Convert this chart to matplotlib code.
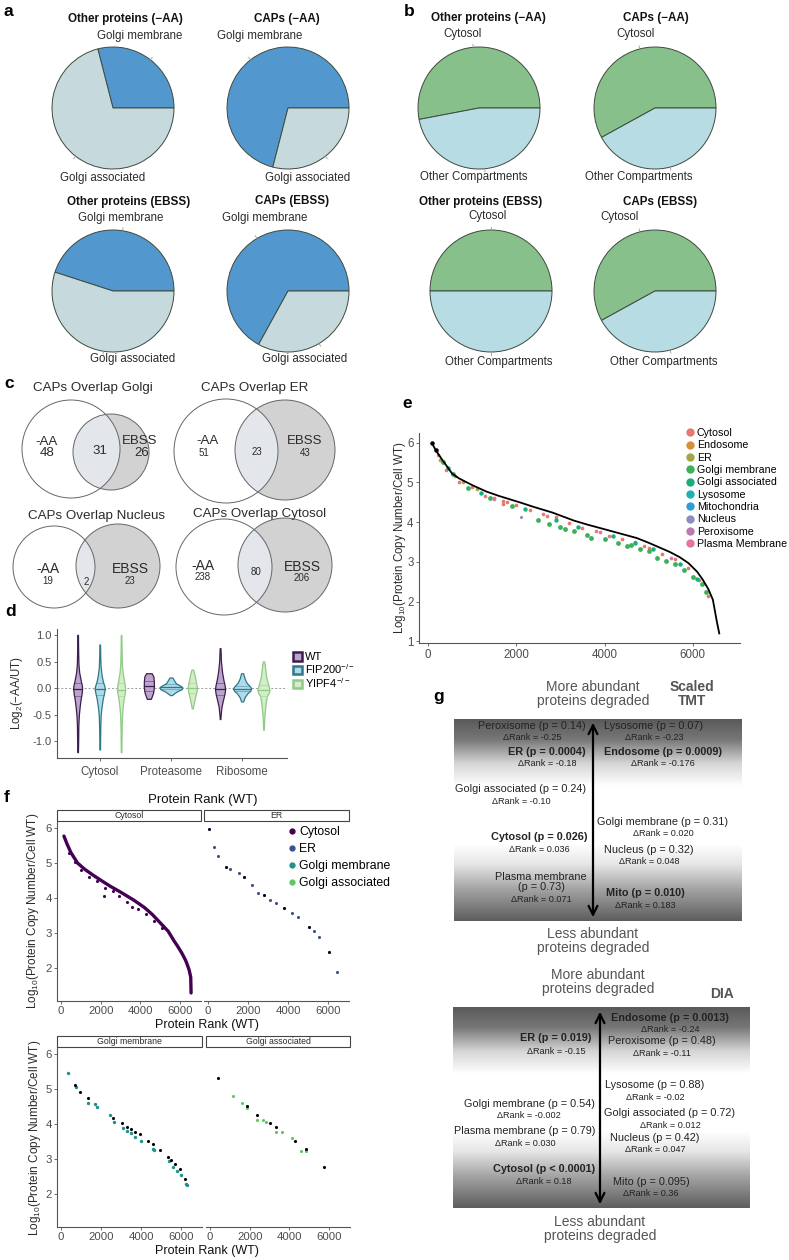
import numpy as np
import matplotlib
matplotlib.use('Agg')
import matplotlib.pyplot as plt
from matplotlib.patches import Circle, Rectangle, Patch
from matplotlib.lines import Line2D
from matplotlib.colors import LinearSegmentedColormap

plt.rcParams['font.family'] = ['Liberation Sans', 'DejaVu Sans']
plt.rcParams['mathtext.fontset'] = 'custom'
plt.rcParams['mathtext.rm'] = 'Liberation Sans'
plt.rcParams['mathtext.it'] = 'Liberation Sans:italic'
plt.rcParams['mathtext.bf'] = 'Liberation Sans:bold'
plt.rcParams['axes.unicode_minus'] = False

# ======================= DATA =======================
# --- a: Golgi membrane / Golgi associated fractions
pie_a_labels = ['Golgi membrane', 'Golgi associated']
pie_a_other_aa = [0.29, 0.71]
pie_a_caps_aa = [0.71, 0.29]
pie_a_other_ebss = [0.45, 0.55]
pie_a_caps_ebss = [0.67, 0.33]
# --- b: Cytosol / Other compartments fractions
pie_b_labels = ['Cytosol', 'Other Compartments']
pie_b_other_aa = [0.53, 0.47]
pie_b_caps_aa = [0.58, 0.42]
pie_b_other_ebss = [0.50, 0.50]
pie_b_caps_ebss = [0.58, 0.42]
pie_titles = ['Other proteins (\u2212AA)', 'CAPs (\u2212AA)', 'Other proteins (EBSS)', 'CAPs (EBSS)']

# --- c: Venn counts
venn_titles = ['CAPs Overlap Golgi', 'CAPs Overlap ER', 'CAPs Overlap Nucleus', 'CAPs Overlap Cytosol']
venn_aa_only = [48, 51, 19, 238]
venn_both = [31, 23, 2, 80]
venn_ebss_only = [26, 43, 23, 206]

# --- d: violin profiles (log2 ratio levels, relative density half-widths)
d_groups = ['Cytosol', 'Proteasome', 'Ribosome']
d_genotypes = ['WT', 'FIP200$^{-/-}$', 'YIPF4$^{-/-}$']
cyto_wt_y = [1.0, 0.7, 0.45, 0.3, 0.15, 0.05, 0.0, -0.1, -0.2, -0.35, -0.5, -0.7, -1.0, -1.2]
cyto_wt_d = [0.3, 0.5, 0.8, 1.5, 3.0, 4.2, 4.4, 4.0, 3.0, 2.0, 1.2, 0.7, 0.5, 0.3]
cyto_fip_y = [0.82, 0.6, 0.4, 0.25, 0.12, 0.03, -0.02, -0.1, -0.2, -0.35, -0.5, -0.7, -0.95, -1.15]
cyto_fip_d = [0.3, 0.5, 0.9, 1.8, 3.2, 4.8, 5.0, 4.2, 3.0, 1.8, 1.0, 0.6, 0.4, 0.3]
cyto_yip_y = [1.0, 0.7, 0.45, 0.3, 0.15, 0.05, -0.03, -0.1, -0.2, -0.35, -0.5, -0.7, -1.0, -1.2]
cyto_yip_d = [0.3, 0.5, 0.8, 1.5, 2.8, 3.8, 4.0, 3.6, 2.6, 1.6, 1.0, 0.6, 0.4, 0.3]
prot_wt_y = [0.28, 0.22, 0.12, 0.02, -0.08, -0.15, -0.2]
prot_wt_d = [2.8, 4.5, 5.0, 5.0, 4.3, 3.0, 2.0]
prot_fip_y = [0.2, 0.15, 0.09, 0.05, 0.02, -0.02, -0.06, -0.1, -0.13]
prot_fip_d = [1.5, 3.0, 5.0, 9.0, 11.3, 10.5, 6.0, 3.0, 1.0]
prot_yip_y = [0.35, 0.25, 0.12, 0.03, -0.05, -0.15, -0.25, -0.33, -0.38]
prot_yip_d = [0.8, 2.2, 3.6, 4.5, 4.3, 3.0, 1.8, 1.0, 0.5]
ribo_wt_y = [0.75, 0.5, 0.3, 0.15, 0.05, -0.02, -0.1, -0.2, -0.35, -0.5, -0.58]
ribo_wt_d = [0.4, 0.9, 2.0, 3.4, 4.6, 5.0, 4.5, 3.2, 1.4, 0.6, 0.3]
ribo_fip_y = [0.28, 0.18, 0.1, 0.04, 0.0, -0.05, -0.1, -0.17, -0.25]
ribo_fip_d = [1.0, 2.5, 4.5, 7.5, 9.0, 8.0, 5.0, 2.5, 1.0]
ribo_yip_y = [0.5, 0.35, 0.2, 0.08, -0.02, -0.08, -0.15, -0.3, -0.5, -0.65, -0.78]
ribo_yip_d = [0.8, 1.8, 2.8, 4.5, 6.0, 5.5, 3.3, 2.0, 1.0, 0.6, 0.3]
d_medians = [-0.02, -0.02, -0.03, 0.05, 0.03, 0.0, -0.02, -0.01, -0.04]
d_q1 = [-0.14, -0.12, -0.15, -0.05, -0.01, -0.1, -0.12, -0.06, -0.14]
d_q3 = [0.1, 0.09, 0.1, 0.14, 0.07, 0.1, 0.1, 0.05, 0.06]

# --- e: rank vs log10 copy number
e_all_rank = [90, 180, 300, 545, 700, 1000, 1318, 1600, 2068, 2400, 2818, 3300, 3600, 4000, 4727,
              5000, 5477, 5700, 5900, 6100, 6227, 6350, 6455, 6545, 6600]
e_all_val = [5.98, 5.8, 5.6, 5.22, 5.1, 4.93, 4.77, 4.66, 4.5, 4.38, 4.24, 4.04, 3.94, 3.82, 3.6,
             3.48, 3.25, 3.12, 2.97, 2.75, 2.55, 2.32, 2.05, 1.5, 1.2]
e_cyto_rank = [230, 400, 700, 1000, 1300, 1500, 1700, 2000, 2300, 2600, 2900, 3200, 3500, 3800,
               4100, 4400, 4700, 5000, 5300, 5600, 5900, 6150, 6350, 1800, 2700, 4900, 1700]
e_cyto_val = [5.68, 5.3, 5.02, 4.88, 4.65, 4.58, 4.52, 4.42, 4.3, 4.2, 4.12, 3.97, 3.86, 3.78,
              3.66, 3.58, 3.5, 3.36, 3.2, 3.06, 2.85, 2.55, 2.15, 4.5, 4.15, 3.4, 4.45]
e_golgim_rank = [330, 560, 900, 1400, 1900, 2500, 2750, 3000, 3100, 3300, 3600, 3700, 4000, 4300,
                 4500, 4600, 4800, 5000, 5200, 5400, 5600, 5800, 6000, 6200, 6300]
e_golgim_val = [5.5, 5.2, 4.85, 4.6, 4.4, 4.05, 3.95, 3.87, 3.82, 3.77, 3.67, 3.6, 3.58, 3.48,
                3.4, 3.42, 3.33, 3.28, 3.1, 3.02, 2.95, 2.8, 2.62, 2.45, 2.25]
e_golgia_rank = [450, 1200, 2200, 2900, 3400, 4200, 4700, 5100, 5700, 6100]
e_golgia_val = [5.35, 4.72, 4.32, 4.05, 3.88, 3.65, 3.48, 3.32, 2.95, 2.58]
e_er_rank = [280, 600, 800, 1100]
e_er_val = [5.55, 5.15, 5.0, 4.82]
e_pm_rank = [1500, 3900, 5500]
e_pm_val = [4.6, 3.75, 3.1]
e_nuc_rank = [2114]
e_nuc_val = [4.12]
e_legend = ['Cytosol', 'Endosome', 'ER', 'Golgi membrane', 'Golgi associated', 'Lysosome',
            'Mitochondria', 'Nucleus', 'Peroxisome', 'Plasma Membrane']

# --- f: facets
f_cyto_rank = [150, 300, 500, 833, 1200, 1600, 2000, 2500, 3000, 3667, 4200, 4600, 5000, 5400,
               5667, 5900, 6083, 6250, 6333, 6450, 6533, 6550]
f_cyto_val = [5.77, 5.55, 5.3, 5.0, 4.82, 4.66, 4.51, 4.33, 4.17, 3.94, 3.73, 3.53, 3.29, 3.05,
              2.8, 2.6, 2.43, 2.25, 2.14, 1.95, 1.74, 1.29]
f_cyto_pt_rank = [400, 700, 1000, 1400, 1800, 2200, 2600, 2900, 3300, 3600, 3900, 4300, 4700, 5100, 2150]
f_cyto_pt_val = [5.3, 5.02, 4.8, 4.6, 4.48, 4.3, 4.2, 4.05, 3.9, 3.75, 3.7, 3.55, 3.35, 3.15, 4.06]
f_er_rank = [50, 300, 500, 900, 1100, 1550, 1800, 2200, 2500, 2800, 3100, 3400, 3800, 4200, 4500,
             5050, 5300, 5550, 6050, 6450]
f_er_val = [5.97, 5.46, 5.2, 4.9, 4.82, 4.71, 4.6, 4.37, 4.15, 4.09, 3.95, 3.85, 3.72, 3.57, 3.45,
            3.17, 3.05, 2.89, 2.46, 1.89]
f_gm_black_rank = [700, 950, 1350, 2600, 3050, 3300, 3500, 3700, 3950, 4350, 4600, 4950, 5350,
                   5500, 5700, 5950, 6200]
f_gm_black_val = [5.11, 4.91, 4.74, 4.17, 4.03, 3.92, 3.85, 3.78, 3.72, 3.51, 3.43, 3.25, 3.07,
                  2.98, 2.85, 2.71, 2.43]
f_gm_col_rank = [350, 750, 1350, 1700, 1800, 2450, 2650, 3100, 3300, 3500, 3700, 4000, 4600, 4650,
                 5400, 5600, 5800, 6000, 6250, 6300]
f_gm_col_val = [5.46, 5.05, 4.6, 4.58, 4.5, 4.26, 4.05, 3.88, 3.8, 3.75, 3.62, 3.52, 3.3, 3.25,
                2.95, 2.78, 2.65, 2.55, 2.29, 2.25]
f_ga_black_rank = [400, 1850, 2350, 3000, 3300, 4300, 4850, 5750]
f_ga_black_val = [5.31, 4.51, 4.26, 4.03, 3.91, 3.51, 3.29, 2.77]
f_ga_col_rank = [1150, 1600, 1850, 2350, 2650, 2800, 3300, 3650, 4150, 4600, 4850]
f_ga_col_val = [4.8, 4.6, 4.45, 4.12, 4.11, 4.05, 3.77, 3.77, 3.6, 3.22, 3.23]
f_facets = ['Cytosol', 'ER', 'Golgi membrane', 'Golgi associated']

# --- g: rank-shift summaries
tmt_names = ['Peroxisome (p = 0.14)', 'ER (p = 0.0004)', 'Golgi associated (p = 0.24)',
             'Cytosol (p = 0.026)', 'Plasma membrane\n(p = 0.73)', 'Lysosome (p = 0.07)',
             'Endosome (p = 0.0009)', 'Golgi membrane (p = 0.31)', 'Nucleus (p = 0.32)',
             'Mito (p = 0.010)']
tmt_drank = ['-0.25', '-0.18', '-0.10', '0.036', '0.071', '-0.23', '-0.176', '0.020', '0.048', '0.183']
tmt_sig = [False, True, False, True, False, False, True, False, False, True]
dia_names = ['Endosome (p = 0.0013)', 'Peroxisome (p = 0.48)', 'Lysosome (p = 0.88)',
             'Golgi associated (p = 0.72)', 'Nucleus (p = 0.42)', 'Mito (p = 0.095)',
             'ER (p = 0.019)', 'Golgi membrane (p = 0.54)', 'Plasma membrane (p = 0.79)',
             'Cytosol (p < 0.0001)']
dia_drank = ['-0.24', '-0.11', '-0.02', '0.012', '0.047', '0.36', '-0.15', '-0.002', '0.030', '0.18']
dia_sig = [True, False, False, False, False, False, True, False, False, True]

# ======================= FIGURE =======================
W, H = 789, 1260
fig = plt.figure(figsize=(W / 100, H / 100), dpi=100)


def px_axes(x0, y0, w, h, **kw):
    return fig.add_axes([x0 / W, 1 - (y0 + h) / H, w / W, h / H], **kw)


ov = fig.add_axes([0, 0, 1, 1], facecolor='none', zorder=10)
ov.set_xlim(0, W)
ov.set_ylim(H, 0)
ov.axis('off')


def T(x, y, s, fs, ha='center', va='center', **kw):
    ov.text(x, y, s, fontsize=fs, ha=ha, va=va, **kw)


TXT = '#2b2b2b'
GREY = '#4D4D4D'

# panel letters
for lx, ly, lt in [(4, 11, 'a'), (404, 11, 'b'), (4, 383, 'c'), (5, 612, 'd'),
                   (402, 403, 'e'), (4, 798, 'f'), (433, 697, 'g')]:
    T(lx, ly, lt, 12.5, ha='left', fontweight='bold', color='black')


# ---------------- pies ----------------
def draw_pie(cx, cy, r, fracs, colors):
    pad = 4
    ax = px_axes(cx - r - pad, cy - r - pad, 2 * (r + pad), 2 * (r + pad))
    ax.pie(fracs, colors=colors, startangle=0, counterclock=True, radius=1,
           wedgeprops=dict(edgecolor='#3d4a3d', linewidth=0.7), frame=False)
    lim = (r + pad) / r
    ax.set_xlim(-lim, lim)
    ax.set_ylim(-lim, lim)
    ax.set_aspect('equal')
    ax.axis('off')
    cum = np.cumsum([0] + list(fracs))
    for i in range(len(fracs)):
        a = np.deg2rad(360 * (cum[i] + cum[i + 1]) / 2)
        ax.plot([np.cos(a), 1.05 * np.cos(a)], [np.sin(a), 1.05 * np.sin(a)], color='#999', lw=0.6)


a_cols = ['#5298CF', '#C6D9DD']
b_cols = ['#88C08C', '#B7DCE3']
pie_a_sets = [pie_a_other_aa, pie_a_caps_aa, pie_a_other_ebss, pie_a_caps_ebss]
pie_b_sets = [pie_b_other_aa, pie_b_caps_aa, pie_b_other_ebss, pie_b_caps_ebss]
a_centers = [(113, 108), (288, 108), (113, 291), (288, 291)]
b_centers = [(479, 108), (655, 108), (491, 291), (655, 291)]
a_title_xy = [(125, 19), (287, 19), (129, 202), (292, 201)]
a_top_xy = [(140, 36), (260, 36), (121, 218), (265, 218)]
a_bot_xy = [(103, 178), (308, 178), (133, 359), (305, 359)]
b_title_xy = [(488, 18), (656, 18), (481, 202), (660, 202)]
b_top_xy = [(463, 34), (636, 34), (488, 216), (620, 217)]
b_bot_xy = [(474, 177), (639, 177), (499, 362), (664, 362)]
for i in range(4):
    draw_pie(*a_centers[i], 61, pie_a_sets[i], a_cols)
    draw_pie(*b_centers[i], 61, pie_b_sets[i], b_cols)
    T(*a_title_xy[i], pie_titles[i], 8.4, fontweight='bold', color='#111')
    T(*b_title_xy[i], pie_titles[i], 8.4, fontweight='bold', color='#111')
    T(*a_top_xy[i], pie_a_labels[0], 8.3, color=TXT)
    T(*a_bot_xy[i], pie_a_labels[1], 8.3, color=TXT)
    T(*b_top_xy[i], pie_b_labels[0], 8.3, color=TXT)
    T(*b_bot_xy[i], pie_b_labels[1], 8.3, color=TXT)

# ---------------- venns ----------------
venn_c1 = [(71, 449), (226, 451), (54, 567), (224, 567)]
venn_r1 = [49, 52, 41, 48]
venn_c2 = [(111, 452), (285, 450), (118, 566), (285, 565)]
venn_r2 = [38, 50, 42, 47]
venn_title_xy = [(93, 388), (255, 388), (97, 516), (260, 514)]
venn_lab_fs = [9.5, 9.5, 10, 10]
venn_num_fs = [9.5, 7, 7, 7]
venn_aa_xy = [(47, 442), (208, 441), (48, 569), (203, 566)]
venn_aan_xy = [(47, 453), (204, 453), (48, 581), (203, 577)]
venn_mid_xy = [(100, 451), (257, 452), (86, 582), (256, 572)]
venn_eb_xy = [(140, 441), (305, 441), (130, 569), (302, 567)]
venn_ebn_xy = [(142, 453), (305, 453), (130, 581), (302, 578)]
for i in range(4):
    c1, r1, c2, r2 = venn_c1[i], venn_r1[i], venn_c2[i], venn_r2[i]
    ov.add_patch(Circle(c1, r1, facecolor='white', edgecolor='none', zorder=1))
    ov.add_patch(Circle(c2, r2, facecolor='#D2D2D2', edgecolor='none', zorder=2))
    inter = Circle(c2, r2, facecolor='#E3E6EA', edgecolor='none', zorder=3)
    ov.add_patch(inter)
    inter.set_clip_path(Circle(c1, r1, transform=ov.transData))
    ov.add_patch(Circle(c1, r1, facecolor='none', edgecolor='#666', lw=0.7, zorder=4))
    ov.add_patch(Circle(c2, r2, facecolor='none', edgecolor='#666', lw=0.7, zorder=4))
    T(*venn_title_xy[i], venn_titles[i], 9.6, color=TXT)
    T(*venn_aa_xy[i], '-AA', venn_lab_fs[i], color=TXT, zorder=5)
    T(*venn_aan_xy[i], str(venn_aa_only[i]), venn_num_fs[i], color=TXT, zorder=5)
    T(*venn_mid_xy[i], str(venn_both[i]), venn_num_fs[i], color=TXT, zorder=5)
    T(*venn_eb_xy[i], 'EBSS', venn_lab_fs[i], color=TXT, zorder=5)
    T(*venn_ebn_xy[i], str(venn_ebss_only[i]), venn_num_fs[i], color=TXT, zorder=5)


# ---------------- d: violins ----------------
def style_ax(ax, left=True, fs=8):
    for s in ['top', 'right']:
        ax.spines[s].set_visible(False)
    ax.spines['left'].set_visible(left)
    for s in ['left', 'bottom']:
        ax.spines[s].set_color('#555')
        ax.spines[s].set_linewidth(0.8)
    ax.tick_params(colors='#555', labelcolor=GREY, length=2.5, width=0.6, labelsize=fs, pad=1.5)
    if not left:
        ax.tick_params(left=False, labelleft=False)
    ax.set_facecolor('none')


axd = px_axes(57, 629, 230, 129)
style_ax(axd)
viol_y = [cyto_wt_y, cyto_fip_y, cyto_yip_y, prot_wt_y, prot_fip_y, prot_yip_y, ribo_wt_y, ribo_fip_y, ribo_yip_y]
viol_d = [cyto_wt_d, cyto_fip_d, cyto_yip_d, prot_wt_d, prot_fip_d, prot_yip_d, ribo_wt_d, ribo_fip_d, ribo_yip_d]
v_fill = ['#BCA4CC', '#AEDAE9', '#D4EDC9']
v_edge = ['#3B1F4F', '#2E7888', '#8ECB85']
v_off = [-0.31, 0.0, 0.30]
dscale = 1.0 / 71.0
axd.axhline(0, color='#9a9a9a', ls=(0, (2, 2)), lw=0.7, zorder=0)
for k in range(9):
    g, gt = k // 3, k % 3
    xc = g + v_off[gt]
    y = np.array(viol_y[k])
    hw = np.array(viol_d[k]) * dscale
    axd.fill_betweenx(y, xc - hw, xc + hw, facecolor=v_fill[gt], edgecolor=v_edge[gt], lw=0.9, zorder=2)
    yy = y[::-1]
    hh = hw[::-1]
    for q, lw_, a_ in [(d_medians[k], 0.9, 1.0), (d_q1[k], 0.5, 0.6), (d_q3[k], 0.5, 0.6)]:
        w = np.interp(q, yy, hh)
        axd.plot([xc - w, xc + w], [q, q], color=v_edge[gt], lw=lw_, alpha=a_, zorder=3)
axd.set_xlim(-0.6, 2.63)
axd.set_ylim(-1.31, 1.11)
axd.set_xticks(range(3))
axd.set_xticklabels(d_groups, fontsize=8.3)
axd.set_yticks([-1.0, -0.5, 0.0, 0.5, 1.0])
axd.set_yticklabels(['-1.0', '-0.5', '0.0', '0.5', '1.0'])
axd.tick_params(axis='x', pad=3)
T(17, 693, 'Log$_2$(\u2212AA/UT)', 8.3, rotation=90, color=TXT)
d_handles = [Patch(facecolor=v_fill[i], edgecolor=v_edge[i], lw=1.8) for i in range(3)]
fig.legend(d_handles, d_genotypes, loc='upper left', bbox_to_anchor=(293 / W, 1 - 652 / H),
           frameon=False, fontsize=8, handlelength=0.8, handleheight=0.8, labelspacing=0.0,
           handletextpad=0.3, borderpad=0, borderaxespad=0)

# ---------------- e: scatter ----------------
axe = px_axes(419, 433, 321, 210)
style_ax(axe)
e_cols = ['#E7796E', '#D4903C', '#A2A64A', '#3EAF5B', '#1AAE7C', '#1DB2B5', '#2C9FD6', '#8C8CBF',
          '#B87BB4', '#E474A2']
axe.scatter(e_cyto_rank, e_cyto_val, s=7, color=e_cols[0], lw=0, zorder=2)
axe.scatter(e_er_rank, e_er_val, s=7, color=e_cols[2], lw=0, zorder=2)
axe.scatter(e_golgia_rank, e_golgia_val, s=10, color=e_cols[4], lw=0, zorder=2)
axe.scatter(e_golgim_rank, e_golgim_val, s=12, color=e_cols[3], lw=0, zorder=2)
axe.scatter(e_pm_rank, e_pm_val, s=7, color=e_cols[9], lw=0, zorder=2)
axe.scatter(e_nuc_rank, e_nuc_val, s=5, color=e_cols[7], lw=0, zorder=2)
axe.plot(e_all_rank, e_all_val, color='black', lw=1.3, zorder=3)
axe.scatter(e_all_rank[:2], e_all_val[:2], s=5, color='black', zorder=3)
axe.set_xlim(-205, 7070)
axe.set_ylim(0.96, 6.24)
axe.set_xticks([0, 2000, 4000, 6000])
axe.set_yticks([1, 2, 3, 4, 5, 6])
axe.tick_params(labelsize=8.3)
T(400, 538, 'Log$_{10}$(Protein Copy Number/Cell WT)', 8.3, rotation=90, color=TXT)
e_handles = [Line2D([], [], ls='', marker='o', ms=5, mfc=c, mec=c) for c in e_cols]
fig.legend(e_handles, e_legend, loc='upper left', bbox_to_anchor=(687 / W, 1 - 428 / H),
           frameon=False, fontsize=7.7, handlelength=0.6, labelspacing=0.22,
           handletextpad=0.3, borderpad=0, borderaxespad=0)

# ---------------- f: facets ----------------
f_boxes = [(57, 821, 144, 180), (204, 821, 145, 180), (57, 1047, 145, 180), (206, 1047, 144, 180)]
f_axes = []
for i, (x0, y0, w, h) in enumerate(f_boxes):
    ax = px_axes(x0, y0, w, h)
    style_ax(ax, left=(i % 2 == 0), fs=8.2)
    ax.tick_params(pad=1)
    ax.set_xlim(-200, 7050)
    ax.set_ylim(1.06, 6.2)
    ax.set_xticks([0, 2000, 4000, 6000])
    ax.set_yticks([2, 3, 4, 5, 6])
    f_axes.append(ax)
    ov.add_patch(Rectangle((x0, y0 - 11), w, 11, facecolor='white', edgecolor='#444', lw=0.8, zorder=2))
    T(x0 + w / 2, y0 - 5.5, f_facets[i], 6.3, color=TXT, zorder=3)

vir = ['#440154', '#3B528B', '#21908C', '#5DC863']
f_axes[0].plot(f_cyto_rank, f_cyto_val, color=vir[0], lw=2.4, solid_capstyle='round', zorder=2)
f_axes[0].scatter(f_cyto_pt_rank, f_cyto_pt_val, s=5, color=vir[0], lw=0, zorder=2)
f_axes[1].scatter(f_er_rank, f_er_val, s=5, color=vir[1], lw=0, zorder=2)
f_axes[1].scatter(f_er_rank[::3], f_er_val[::3], s=4, color='black', lw=0, zorder=3)
f_axes[2].scatter(f_gm_col_rank, f_gm_col_val, s=6, color=vir[2], lw=0, zorder=2)
f_axes[2].scatter(f_gm_black_rank, f_gm_black_val, s=5, color='black', lw=0, zorder=3)
f_axes[3].scatter(f_ga_col_rank, f_ga_col_val, s=5, color=vir[3], lw=0, zorder=2)
f_axes[3].scatter(f_ga_black_rank, f_ga_black_val, s=5, color='black', lw=0, zorder=3)

T(203, 800, 'Protein Rank (WT)', 9.5, color='#111')
T(207, 1025, 'Protein Rank (WT)', 9, color='#111')
T(207, 1251, 'Protein Rank (WT)', 9, color='#111')
T(33, 911, 'Log$_{10}$(Protein Copy Number/Cell WT)', 8.5, rotation=90, color=TXT)
T(35, 1138, 'Log$_{10}$(Protein Copy Number/Cell WT)', 8.5, rotation=90, color=TXT)
f_handles = [Line2D([], [], ls='', marker='o', ms=3.5, mfc=c, mec=c) for c in vir]
fig.legend(f_handles, f_facets, loc='upper left', bbox_to_anchor=(288 / W, 1 - 826 / H),
           frameon=False, fontsize=8.8, handlelength=0.6, labelspacing=0.42,
           handletextpad=0.3, borderpad=0, borderaxespad=0)

# ---------------- g: gradient boxes ----------------
grad = LinearSegmentedColormap.from_list('g', [(0.0, '#5a5a5a'), (0.1, '#777777'), (0.22, '#d6d6d6'),
                                                (0.33, '#ffffff'), (0.62, '#ffffff'), (0.72, '#e6e6e6'),
                                                (0.84, '#a5a5a5'), (1.0, '#5e5e5e')])
gv = np.linspace(0, 1, 256).reshape(-1, 1)
for (x0, x1, y0, y1) in [(454, 742, 719, 921), (453, 750, 1007, 1208)]:
    ov.imshow(gv, cmap=grad, extent=(x0, x1, y1, y0), aspect='auto', zorder=1, interpolation='bilinear')
ov.set_xlim(0, W)
ov.set_ylim(H, 0)
ov.annotate('', xy=(593, 720), xytext=(593, 920),
            arrowprops=dict(arrowstyle='<->', lw=1.6, color='black', mutation_scale=16), zorder=3)
ov.annotate('', xy=(600, 1009), xytext=(600, 1207),
            arrowprops=dict(arrowstyle='<->', lw=1.6, color='black', mutation_scale=16), zorder=3)

HG = '#555555'
T(593, 694, 'More abundant\nproteins degraded', 10, color=HG, linespacing=1.05)
T(692, 694, 'Scaled\nTMT', 10, color=HG, fontweight='bold', linespacing=1.05)
T(593, 941, 'Less abundant\nproteins degraded', 10, color=HG, linespacing=1.05)
T(598, 982, 'More abundant\nproteins degraded', 10, color=HG, linespacing=1.05)
T(722, 994, 'DIA', 10, color=HG, fontweight='bold')
T(600, 1229, 'Less abundant\nproteins degraded', 10, color=HG, linespacing=1.05)

tmt_pos = [(532, 726, 738), (547, 752, 763), (521, 789, 802), (539, 837, 849), (541, 882, 900),
           (654, 726, 738), (663, 752, 764), (663, 822, 833), (649, 850, 862), (645, 893, 905)]
dia_pos = [(670, 1018, 1029), (662, 1041, 1053), (655, 1085, 1097), (670, 1113, 1125),
           (655, 1138, 1150), (651, 1182, 1193), (556, 1038, 1051), (529, 1104, 1116),
           (525, 1131, 1143), (544, 1169, 1181)]
for names, dr, sig, pos in [(tmt_names, tmt_drank, tmt_sig, tmt_pos), (dia_names, dia_drank, dia_sig, dia_pos)]:
    for i in range(len(names)):
        x, yn, yd = pos[i]
        T(x, yn, names[i], 7.8, color='#222', fontweight='bold' if sig[i] else 'normal',
          linespacing=1.05, zorder=4)
        T(x, yd, '\u0394Rank = ' + dr[i], 6.6, color='#222', zorder=4)

fig.savefig('out.png', dpi=100)
